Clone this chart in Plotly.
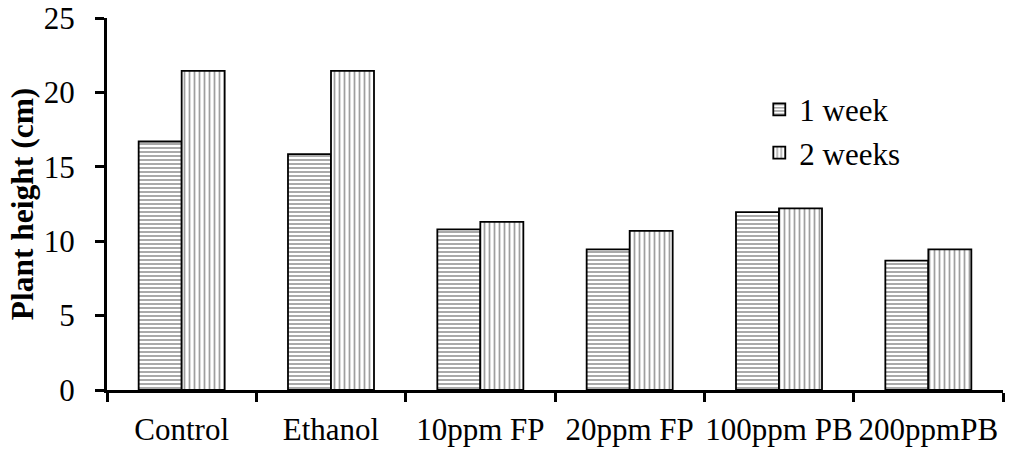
import plotly.graph_objects as go

categories = ["Control", "Ethanol", "10ppm FP", "20ppm FP", "100ppm PB", "200ppmPB"]
week1 = [16.7, 15.85, 10.8, 9.45, 11.95, 8.7]
week2 = [21.45, 21.45, 11.3, 10.7, 12.2, 9.45]
series_names = ["1 week", "2 weeks"]
y_ticks = [0, 5, 10, 15, 20, 25]

FONT = "Liberation Serif"

fig = go.Figure()
fig.add_trace(go.Bar(
    x=categories, y=week1, name=series_names[0],
    marker=dict(color="white", line=dict(color="black", width=1.8),
                pattern=dict(shape="-", fgcolor="#404040", bgcolor="white",
                             size=4, solidity=0.45)),
))
fig.add_trace(go.Bar(
    x=categories, y=week2, name=series_names[1],
    marker=dict(color="white", line=dict(color="black", width=1.8),
                pattern=dict(shape="|", fgcolor="#404040", bgcolor="white",
                             size=5, solidity=0.35)),
))

fig.update_layout(
    width=1010, height=450,
    margin=dict(l=107, r=7, t=18, b=60, autoexpand=False),
    paper_bgcolor="white", plot_bgcolor="white",
    barmode="group", bargap=0.424, bargroupgap=0,
    font=dict(family=FONT, size=30, color="black"),
    showlegend=True,
    legend=dict(x=0.728, y=0.826, xanchor="left", yanchor="top",
                font=dict(family=FONT, size=31, color="black"),
                bgcolor="rgba(0,0,0,0)", itemclick=False,
                tracegroupgap=0),
    xaxis=dict(
        type="category", range=[-0.5, 5.5], automargin=False, tickangle=0,
        showline=True, linecolor="black", linewidth=3,
        ticks="outside", tickson="boundaries", ticklen=9, tickwidth=2.5,
        tickcolor="black", showgrid=False, zeroline=False,
        tickfont=dict(family=FONT, size=31, color="black"),
        ticklabelstandoff=10,
    ),
    yaxis=dict(
        range=[0, 25], tickvals=y_ticks, ticktext=[str(v) for v in y_ticks],
        automargin=False,
        showline=True, linecolor="black", linewidth=3,
        ticks="outside", ticklen=9, tickwidth=2.5, tickcolor="black",
        showgrid=False, zeroline=False,
        tickfont=dict(family=FONT, size=31, color="black"),
        ticklabelstandoff=14,
        title=dict(text="<b>Plant height (cm)</b>",
                   font=dict(family=FONT, size=31.5, color="black"),
                   standoff=1),
    ),
)

fig.write_html("out.html", config={"displayModeBar": False},
               post_script="document.body.style.margin='0px';")
